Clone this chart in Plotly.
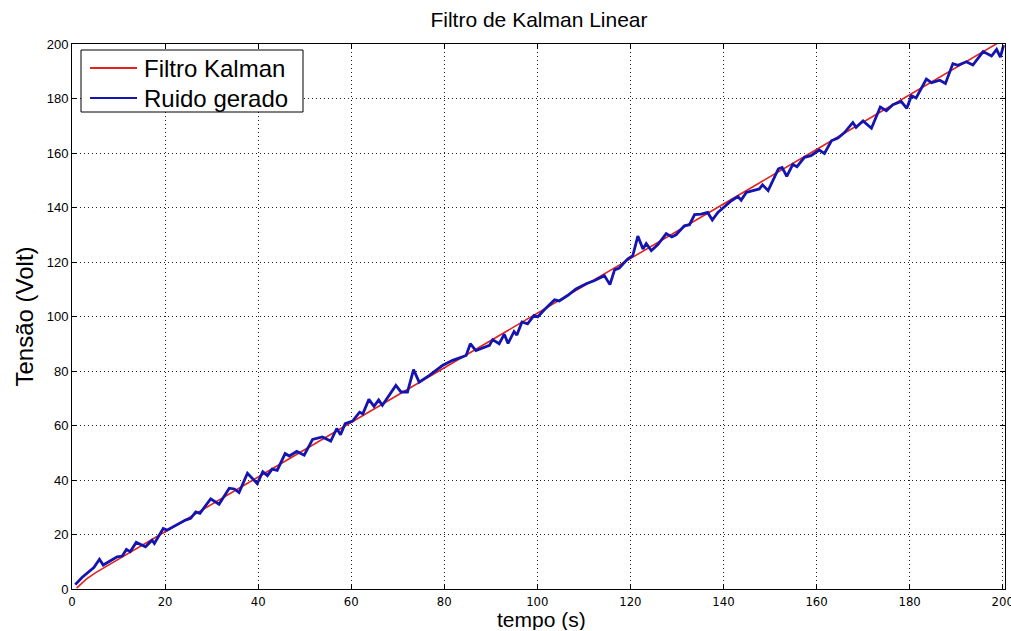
import plotly.graph_objects as go

# Measured noisy signal (time in s, voltage in V)
ruido_t = [0.7, 2.2, 4.7, 5.9, 6.7, 9.7, 10.8, 11.7, 12.5, 13.8, 15.8, 17.2, 17.7, 19.6, 20.4,
           22.9, 24.4, 25.5, 26.6, 27.5, 29.8, 31.6, 33.8, 34.9, 35.9, 37.7, 39.8, 41.0, 42.0,
           43.0, 44.1, 45.8, 46.7, 48.3, 49.9, 51.7, 52.6, 53.8, 55.6, 56.9, 57.7, 58.7, 60.3,
           61.8, 62.5, 63.8, 64.9, 65.9, 66.7, 69.6, 70.7, 72.1, 73.4, 74.6, 76.8, 77.8, 79.6,
           81.8, 83.6, 84.7, 85.6, 86.8, 89.7, 90.4, 91.8, 92.9, 93.7, 95.0, 95.6, 96.7, 97.9,
           99.3, 100.1, 101.5, 103.7, 104.7, 106.5, 108.3, 110.5, 112.3, 114.4, 115.6, 116.6,
           117.6, 119.4, 120.5, 121.6, 122.7, 123.4, 124.5, 125.9, 127.7, 128.9, 129.8, 131.6,
           132.7, 133.8, 135.2, 136.6, 137.6, 138.8, 140.5, 141.7, 143.1, 143.8, 144.9, 147.7,
           148.4, 149.6, 151.8, 152.6, 153.6, 154.9, 155.8, 157.4, 158.8, 160.6, 161.7, 163.2,
           164.6, 166.0, 167.8, 168.5, 170.0, 171.8, 173.7, 175.0, 176.4, 178.2, 179.4, 180.4,
           181.4, 183.6, 184.7, 186.5, 187.7, 189.3, 190.4, 192.2, 193.6, 195.8, 197.6, 198.7,
           199.5, 200.2]
ruido_v = [1.6, 4.3, 7.9, 10.9, 8.8, 11.8, 12.1, 14.5, 13.7, 17.1, 15.5, 17.9, 16.7, 22.2, 21.6,
           24.1, 25.3, 25.9, 28.3, 27.8, 33.1, 31.1, 37.0, 36.7, 35.4, 42.5, 38.7, 43.0, 41.6,
           44.0, 43.5, 49.7, 48.8, 50.5, 49.1, 54.9, 55.3, 55.8, 54.3, 58.9, 56.6, 60.7, 61.6,
           64.9, 64.3, 69.6, 67.0, 69.4, 67.4, 74.7, 72.3, 72.3, 80.5, 75.9, 78.4, 79.6, 82.0,
           83.9, 85.1, 85.7, 90.0, 87.5, 89.4, 91.5, 90.0, 93.5, 90.1, 94.5, 93.2, 98.0, 97.3,
           100.4, 99.9, 102.5, 106.1, 105.7, 107.7, 110.1, 112.0, 113.2, 115.0, 111.7, 117.1,
           117.8, 121.1, 122.3, 129.5, 124.8, 126.8, 124.2, 126.4, 130.4, 129.2, 130.0, 133.3,
           133.7, 137.4, 137.6, 138.2, 135.4, 138.2, 140.6, 142.5, 144.0, 142.7, 145.5, 146.8,
           148.3, 146.2, 154.2, 154.7, 151.4, 155.8, 155.0, 158.4, 159.0, 161.1, 159.8, 164.5,
           165.5, 167.5, 171.2, 169.4, 171.8, 169.1, 176.9, 175.5, 177.7, 178.9, 176.4, 181.0,
           180.2, 187.1, 185.8, 186.7, 185.5, 192.8, 192.2, 193.5, 192.3, 197.2, 195.6, 198.0,
           195.2, 199.6]

# Kalman filter estimate
kalman_t = [1, 3, 5, 10, 20, 40, 60, 80, 100, 120, 140, 160, 180, 200]
kalman_v = [0.3, 3.5, 5.9, 11.0, 21.0, 41.1, 61.2, 81.2, 101.2, 121.3, 141.3, 161.3, 181.4, 201.4]

x_ticks = [0, 20, 40, 60, 80, 100, 120, 140, 160, 180, 200]
y_ticks = [0, 20, 40, 60, 80, 100, 120, 140, 160, 180, 200]

legend_names = ["Filtro Kalman", "Ruido gerado"]
line_colors = ["#e3231f", "#1414b0"]

W, H = 1011, 631
M_L, M_R, M_T, M_B = 72, 6, 44, 42
PW, PH = W - M_L - M_R, H - M_T - M_B


def px_x(px):
    return (px - M_L) / PW


def px_y(py):
    return (H - M_B - py) / PH


fig = go.Figure()
fig.add_trace(go.Scatter(x=kalman_t, y=kalman_v, mode="lines", name=legend_names[0],
                         line=dict(color=line_colors[0], width=1.6), showlegend=False))
fig.add_trace(go.Scatter(x=ruido_t, y=ruido_v, mode="lines", name=legend_names[1],
                         line=dict(color=line_colors[1], width=2.8), showlegend=False))

axis_common = dict(
    showline=True, linecolor="black", linewidth=1, mirror="allticks",
    ticks="inside", ticklen=5, tickcolor="black",
    showgrid=True, gridcolor="#222222", gridwidth=1, griddash="1px,3px",
    zeroline=False, automargin=False,
)

fig.update_xaxes(range=[0, 200.5], tickvals=x_ticks, ticktext=[str(v) for v in x_ticks],
                 ticklabeloverflow="allow", ticklabelstandoff=0,
                 tickfont=dict(family="DejaVu Sans Condensed, Liberation Sans Narrow, Liberation Sans",
                               size=13, color="black"),
                 **axis_common)
fig.update_yaxes(range=[0, 200], tickvals=y_ticks, ticktext=[str(v) for v in y_ticks],
                 tickfont=dict(family="Liberation Sans, Arial", size=13, color="black"),
                 title=dict(text="Tensão (Volt)", standoff=6,
                            font=dict(family="Liberation Sans, Arial", size=24, color="black")),
                 **axis_common)

# Legend box drawn in the upper-left corner of the axes
shapes = [dict(type="rect", xref="paper", yref="paper",
               x0=px_x(81), x1=px_x(303), y0=px_y(112), y1=px_y(50),
               line=dict(color="black", width=1), fillcolor="white", layer="above")]
annotations = []
for i, (name, col) in enumerate(zip(legend_names, line_colors)):
    yc = 68 + 30 * i
    shapes.append(dict(type="line", xref="paper", yref="paper",
                       x0=px_x(90), x1=px_x(137), y0=px_y(yc), y1=px_y(yc),
                       line=dict(color=col, width=2), layer="above"))
    annotations.append(dict(text=name, xref="paper", yref="paper",
                            x=px_x(142), y=px_y(yc), xanchor="left", yanchor="middle",
                            showarrow=False,
                            font=dict(family="Liberation Sans, Arial", size=24, color="black")))

# x-axis title placed just under the tick labels
annotations.append(dict(text="tempo (s)", xref="paper", yref="paper",
                        x=px_x(541), y=px_y(631), xanchor="center", yanchor="bottom",
                        height=22, valign="middle", borderpad=0,
                        showarrow=False,
                        font=dict(family="Liberation Sans, Arial", size=21, color="black")))

fig.update_layout(
    width=W, height=H,
    margin=dict(l=M_L, r=M_R, t=M_T, b=M_B),
    paper_bgcolor="white", plot_bgcolor="white",
    title=dict(text="Filtro de Kalman Linear", x=539 / W, xanchor="center",
               y=1 - 20 / H, yanchor="middle",
               font=dict(family="Liberation Sans, Arial", size=21, color="black")),
    shapes=shapes,
    annotations=annotations,
    showlegend=False,
)

fig.write_html("out.html")
